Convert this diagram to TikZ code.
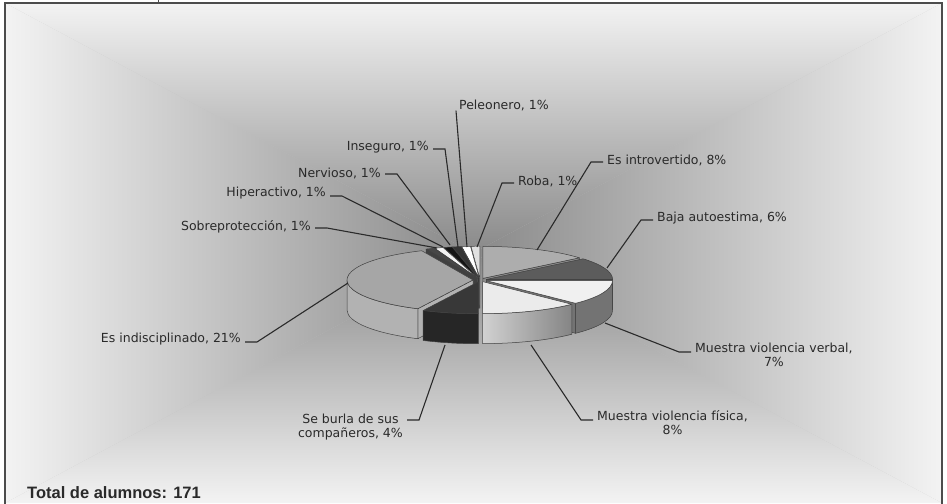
\documentclass[tikz,border=0pt]{standalone}
\usepackage{fontspec}
\setmainfont{DejaVu Sans}
\newfontfamily\totalfont{Liberation Sans}
\usetikzlibrary{calc}

\definecolor{bgedge}{HTML}{F3F3F3}
\definecolor{bgmid}{HTML}{898989}
\definecolor{ink}{HTML}{2A2A2A}

\tikzset{
  lbl/.style={font=\fontsize{12.5}{14}\selectfont, text=ink, inner sep=0pt, align=center},
  leader/.style={draw=ink, line width=1.1pt},
  edge/.style={draw=black!75, line width=0.5pt, line join=round}
}

% pie radii, height and explode distance
\def\prx{126}\def\pry{32}\def\pdep{30}\def\xpl{7}

% name, from, to, top style, side style, side from, side to
\newcommand{\pieslice}[7]{%
  \pgfmathsetmacro\slmid{(#2+#3)/2}%
  \pgfmathsetmacro\slcs{cos(#2)}%
  \pgfmathsetmacro\slce{cos(#3)}%
  \coordinate (s-#1) at ($(pc)+({\xpl*cos(\slmid)},{\xpl*\pry/\prx*sin(\slmid)})$);
  \ifdim\slcs pt>0pt
    \path[edge,#5] (s-#1) -- ([shift={(#2:\prx pt and \pry pt)}]s-#1) -- ++(0,-\pdep) -- ([yshift=-\pdep pt]s-#1) -- cycle;
  \fi
  \ifdim\slce pt<0pt
    \path[edge,#5] (s-#1) -- ([shift={(#3:\prx pt and \pry pt)}]s-#1) -- ++(0,-\pdep) -- ([yshift=-\pdep pt]s-#1) -- cycle;
  \fi
  \ifdim#6pt<#7pt
    \path[edge,#5] ([shift={(#6:\prx pt and \pry pt)}]s-#1) arc[start angle=#6, end angle=#7, x radius=\prx pt, y radius=\pry pt]
      -- ++(0,-\pdep) arc[start angle=#7, end angle=#6, x radius=\prx pt, y radius=\pry pt] -- cycle;
  \fi
  \path[edge,#4] (s-#1) -- ([shift={(#2:\prx pt and \pry pt)}]s-#1) arc[start angle=#2, end angle=#3, x radius=\prx pt, y radius=\pry pt] -- cycle;
}

\begin{document}
\begin{tikzpicture}[x=1pt, y=1pt]
  \useasboundingbox (0,0) rectangle (947,503);
  % background
  \fill[bgmid!45!bgedge] (5,0) rectangle (942,500);
  \shade[top color=bgedge, bottom color=bgmid] (5,500) -- (942,500) -- (473,250) -- cycle;
  \shade[bottom color=bgedge, top color=bgmid] (5,0) -- (942,0) -- (473,250) -- cycle;
  \shade[left color=bgedge, right color=bgmid] (5,0) -- (5,500) -- (473,250) -- cycle;
  \shade[right color=bgedge, left color=bgmid] (942,0) -- (942,500) -- (473,250) -- cycle;
  \draw[black!70, line width=1.2pt] (5,-2) -- (5,500) -- (942,500) -- (942,-2);
  \draw[black!70, line width=1pt] (158,500) -- (158,503);

  % pie
  \coordinate (pc) at (480,223);
  \pieslice{rob}{90}{94}{fill=black!12}{fill=black!40}{0}{0}
  \pieslice{pel}{94}{98}{fill=white}{fill=black!40}{0}{0}
  \pieslice{ins}{98}{102}{fill=black!80}{fill=black!85}{0}{0}
  \pieslice{ner}{102}{106}{fill=black!92}{fill=black!90}{0}{0}
  \pieslice{hip}{106}{110}{fill=black!5}{fill=black!40}{0}{0}
  \pieslice{sob}{110}{114}{fill=black!72}{fill=black!75}{0}{0}
  \pieslice{int}{40}{90}{fill=black!32}{fill=black!45}{0}{0}
  \pieslice{baj}{0}{40}{fill=black!64}{fill=black!70}{0}{0}
  \pieslice{ind}{114}{244}{fill=black!35}{fill=black!30}{180}{244}
  \pieslice{ver}{-45}{0}{fill=black!6}{fill=black!55}{-45}{0}
  \pieslice{fis}{270}{315}{fill=black!8}{left color=black!18, right color=black!48}{270}{315}
  \pieslice{bur}{244}{270}{fill=black!78}{fill=black!85}{244}{270}

  % leader ends on the pie
  \coordinate (p-pel) at (467,256);
  \coordinate (p-ins) at (458,256);
  \coordinate (p-ner) at (450,258);
  \coordinate (p-hip) at (443,256);
  \coordinate (p-sob) at (437,255);
  \coordinate (p-rob) at (477,256);
  \coordinate (p-int) at (537,253);
  \coordinate (p-baj) at (607,235);
  \coordinate (p-ver) at (605,180);
  \coordinate (p-fis) at (531,158);
  \coordinate (p-bur) at (445,158);
  \coordinate (p-ind) at (348,220);

  % labels
  \node[lbl, anchor=west] (pel) at (459,398) {Peleonero, 1\%};
  \node[lbl, anchor=east] (ins) at (429,356) {Inseguro, 1\%};
  \node[lbl, anchor=east] (ner) at (381,330) {Nervioso, 1\%};
  \node[lbl, anchor=east] (hip) at (326,310) {Hiperactivo, 1\%};
  \node[lbl, anchor=east] (sob) at (311,276) {Sobreprotección, 1\%};
  \node[lbl, anchor=west] (rob) at (518,322) {Roba, 1\%};
  \node[lbl, anchor=west] (int) at (607,343) {Es introvertido, 8\%};
  \node[lbl, anchor=west] (baj) at (657,285) {Baja autoestima, 6\%};
  \node[lbl, anchor=west] (ver) at (695,148) {Muestra violencia verbal,\\7\%};
  \node[lbl, anchor=west] (fis) at (597,80) {Muestra violencia física,\\8\%};
  \node[lbl, anchor=east] (bur) at (403,76) {Se burla de sus\\compañeros, 4\%};
  \node[lbl, anchor=east] (ind) at (241,164) {Es indisciplinado, 21\%};
  \node[anchor=west, inner sep=0pt, text=ink, font=\totalfont\bfseries\fontsize{16.5}{18}\selectfont] (tot) at (27,10) {Total de alumnos: 171};

  % leaders
  \foreach \n/\dy in {rob/-2, int/-2, baj/-2, ver/3, fis/3}
    \draw[leader] ([shift={(-4pt,\dy pt)}]\n.west) -- ++(-12,0) -- (p-\n);
  \foreach \n/\dy in {ins/-2, ner/-1, hip/-3, sob/-1, ind/-3, bur/7}
    \draw[leader] ([shift={(4pt,\dy pt)}]\n.east) -- ++(12,0) -- (p-\n);
  \draw[leader] ([xshift=-3pt]pel.south west) -- (p-pel);
\end{tikzpicture}
\end{document}
